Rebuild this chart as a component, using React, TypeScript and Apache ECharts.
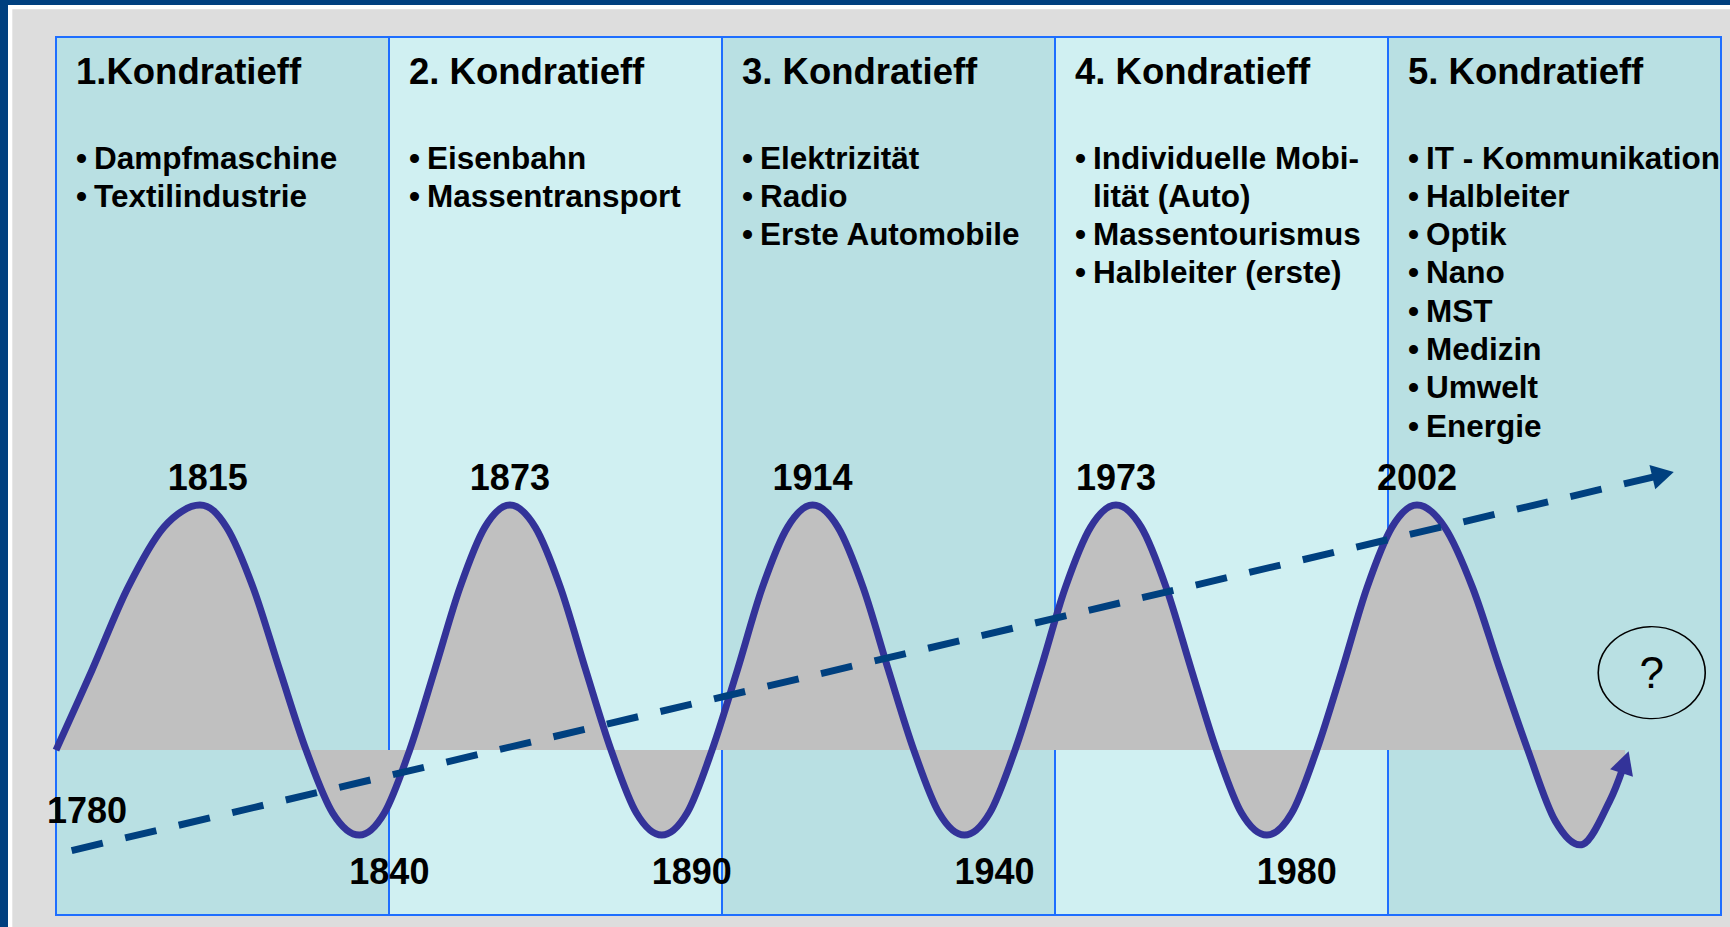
import React, { useEffect, useRef } from "react";
import * as echarts from "echarts";

// ---------- data ----------
const panelTitles = ["1.Kondratieff", "2. Kondratieff", "3. Kondratieff", "4. Kondratieff", "5. Kondratieff"];
const panelItems: string[][] = [
  ["Dampfmaschine", "Textilindustrie"],
  ["Eisenbahn", "Massentransport"],
  ["Elektrizität", "Radio", "Erste Automobile"],
  ["Individuelle Mobi-\nlität (Auto)", "Massentourismus", "Halbleiter (erste)"],
  ["IT - Kommunikation", "Halbleiter", "Optik", "Nano", "MST", "Medizin", "Umwelt", "Energie"],
];
const panelColors = ["#B9E0E3", "#D0F0F2", "#B9E0E3", "#D0F0F2", "#B9E0E3"];
const panelBounds = [0, 100, 200, 300, 400, 500];

// wave: x = position (100 per Kondratieff panel), y = amplitude (peak = 100)
const waveX = [
  0, 10.8, 21.6, 32.4, 43.2,
  51.2, 59.2, 67.2, 75.1, 83.1, 91.1,
  98.6, 106.2, 113.7, 121.3, 128.8, 136.3,
  143.9, 151.5, 159.1, 166.7, 174.3, 181.9,
  189.5, 197.0, 204.6, 212.1, 219.7, 227.2,
  234.8, 242.4, 250.0, 257.6, 265.2, 272.8,
  280.4, 288.0, 295.6, 303.1, 310.7, 318.3,
  325.9, 333.4, 341.0, 348.5, 356.0, 363.6,
  371.1, 378.6, 386.2, 393.7, 401.2, 408.7,
  417.0, 425.4, 433.7, 442.0, 450.3, 458.6,
  466.7, 471.2,
];
const waveY = [
  0, 32.6, 66.3, 91.0, 100,
  91.0, 66.3, 32.6, 0, -25.7, -34.7,
  -25.7, 0, 32.6, 66.3, 91.0, 100,
  91.0, 66.3, 32.6, 0, -25.7, -34.7,
  -25.7, 0, 32.6, 66.3, 91.0, 100,
  91.0, 66.3, 32.6, 0, -25.7, -34.7,
  -25.7, 0, 32.6, 66.3, 91.0, 100,
  91.0, 66.3, 32.6, 0, -25.7, -34.7,
  -25.7, 0, 32.6, 66.3, 91.0, 100,
  91.0, 66.3, 32.6, 0, -29.1, -38.4,
  -20.4, -4.9,
];
const startYear = "1780";
const peakYears = ["1815", "1873", "1914", "1973", "2002"];
const peakLabelShift = [8, 0, 0, 0, 0];
const troughYears = ["1840", "1890", "1940", "1980"];

const trendX = [4.7, 482.6];
const trendY = [-41.0, 112.4];

const questionPoint = [479.2, 31.6];

// ---------- layout / style ----------
const W = 1730;
const H = 927;
const GRID_LEFT = 56;
const GRID_RIGHT = 9;
const GRID_TOP = 37;
const GRID_BOTTOM = 12;
const X_MIN = 0;
const X_MAX = 500;
const Y_MIN = -67.3;
const Y_MAX = 291;
const PANEL_W = (W - GRID_LEFT - GRID_RIGHT) / 5;
const FF = "'Liberation Sans', Arial, Helvetica, sans-serif";
const NAVY = "#00407F";
const WAVE = "#333399";
const BORDER = "#1E6EFF";

// smooth curve (Catmull-Rom) through given pixel points, optionally closed to a baseline
const WaveShape = (echarts.graphic as any).extendShape({
  shape: { points: null as any, baseY: null as any },
  buildPath(ctx: any, shape: any) {
    const pts: number[][] = shape.points;
    if (!pts || pts.length < 2) return;
    const n = pts.length;
    ctx.moveTo(pts[0][0], pts[0][1]);
    for (let i = 0; i < n - 1; i++) {
      const p0 = pts[Math.max(i - 1, 0)];
      const p1 = pts[i];
      const p2 = pts[i + 1];
      const p3 = pts[Math.min(i + 2, n - 1)];
      ctx.bezierCurveTo(
        p1[0] + (p2[0] - p0[0]) / 6,
        p1[1] + (p2[1] - p0[1]) / 6,
        p2[0] - (p3[0] - p1[0]) / 6,
        p2[1] - (p3[1] - p1[1]) / 6,
        p2[0],
        p2[1]
      );
    }
    if (shape.baseY != null) {
      ctx.lineTo(pts[n - 1][0], shape.baseY);
      ctx.lineTo(pts[0][0], shape.baseY);
      ctx.closePath();
    }
  },
});
(echarts.graphic as any).registerShape("kwave", WaveShape);

export default function App() {
  const ref = useRef<HTMLDivElement>(null);

  useEffect(() => {
    if (!ref.current) return;
    const chart = echarts.init(ref.current, undefined, { renderer: "svg" });

    const yearLabel = {
      show: true,
      fontSize: 36,
      lineHeight: 36,
      fontWeight: "bold",
      color: "#000000",
      opacity: 1,
      fontFamily: FF,
    };

    // label / arrow points taken from the wave data
    const maxY = Math.max(...waveY);
    let p = 0;
    let t = 0;
    const markData: any[] = [];
    waveX.forEach((x, i) => {
      const y = waveY[i];
      const isLast = i === waveX.length - 1;
      if (i === 0) {
        markData.push({ value: [x, y], label: { ...yearLabel, formatter: startYear, position: "bottom", distance: 42, offset: [31, 0] } });
      } else if (y === maxY) {
        markData.push({ value: [x, y], label: { ...yearLabel, formatter: peakYears[p], position: "top", distance: 10, offset: [peakLabelShift[p], 0] } });
        p++;
      } else if (!isLast && y < waveY[i - 1] && y < waveY[i + 1] && t < troughYears.length) {
        markData.push({ value: [x, y], label: { ...yearLabel, formatter: troughYears[t], position: "bottom", distance: 18, offset: [30, 0] } });
        t++;
      }
      if (isLast) {
        markData.push({ value: [x, y], symbol: "triangle", symbolSize: [24, 23], symbolRotate: -18, itemStyle: { color: WAVE, opacity: 1 } });
      }
    });

    const graphics: any[] = [
      { type: "rect", shape: { x: 0, y: 0, width: W, height: 5 }, style: { fill: NAVY }, z: 50 },
      { type: "rect", shape: { x: 0, y: 0, width: 8, height: H }, style: { fill: NAVY }, z: 50 },
      { type: "rect", shape: { x: 8, y: 5, width: W - 8, height: 4.3 }, style: { fill: "#FFFFFF" }, z: 50 },
      { type: "rect", shape: { x: 8, y: 5, width: 4.3, height: H - 5 }, style: { fill: "#FFFFFF" }, z: 50 },
    ];

    const titleSize = 36.5;
    const itemSize = 31.5;
    const lineStep = 38.3;
    panelTitles.forEach((title, i) => {
      const left = GRID_LEFT + i * PANEL_W;
      graphics.push({
        type: "text",
        x: left + 20,
        y: 83.7 - 0.3465 * titleSize,
        z: 100,
        style: { text: title, fontSize: titleSize, fontWeight: "bold", fontFamily: FF, fill: "#000", align: "left", verticalAlign: "middle" },
      });
      let line = 0;
      panelItems[i].forEach((item) => {
        const yBase = 168.5 + line * lineStep;
        graphics.push({
          type: "text",
          x: left + 20,
          y: yBase - 0.3465 * itemSize,
          z: 100,
          style: { text: "•", fontSize: itemSize, fontWeight: "bold", fontFamily: FF, fill: "#000", align: "left", verticalAlign: "middle" },
        });
        item.split("\n").forEach((part) => {
          const yb = 168.5 + line * lineStep;
          graphics.push({
            type: "text",
            x: left + 38,
            y: yb - 0.3465 * itemSize,
            z: 100,
            style: { text: part, fontSize: itemSize, fontWeight: "bold", fontFamily: FF, fill: "#000", align: "left", verticalAlign: "middle" },
          });
          line++;
        });
      });
    });

    chart.setOption({
      animation: false,
      backgroundColor: "#DDDDDD",
      grid: { left: GRID_LEFT, right: GRID_RIGHT, top: GRID_TOP, bottom: GRID_BOTTOM, containLabel: false },
      xAxis: { type: "value", min: X_MIN, max: X_MAX, show: false, splitLine: { show: false } },
      yAxis: { type: "value", min: Y_MIN, max: Y_MAX, show: false, splitLine: { show: false } },
      graphic: graphics,
      series: [
        {
          type: "custom",
          coordinateSystem: "cartesian2d",
          z: 1,
          silent: true,
          clip: false,
          data: panelColors.map((c, i) => [panelBounds[i], panelBounds[i + 1]]),
          renderItem: (params: any, api: any) => {
            const p0 = api.coord([api.value(0), Y_MAX]);
            const p1 = api.coord([api.value(1), Y_MIN]);
            return {
              type: "rect",
              shape: { x: p0[0], y: p0[1], width: p1[0] - p0[0], height: p1[1] - p0[1] },
              style: { fill: panelColors[params.dataIndex], stroke: BORDER, lineWidth: 2 },
            };
          },
        },
        {
          type: "custom",
          coordinateSystem: "cartesian2d",
          z: 2,
          silent: true,
          clip: false,
          data: waveX.map((x, i) => [x, waveY[i]]),
          renderItem: (params: any, api: any) => {
            if (params.dataIndex !== 0) return null;
            const pts = waveX.map((x, i) => api.coord([x, waveY[i]]));
            const baseY = api.coord([waveX[0], 0])[1];
            return {
              type: "group",
              children: [
                { type: "kwave", shape: { points: pts, baseY }, style: { fill: "#C0C0C0", stroke: null } },
                { type: "kwave", shape: { points: pts, baseY: null }, style: { fill: null, stroke: WAVE, lineWidth: 7 } },
              ],
            };
          },
        },
        {
          type: "line",
          z: 3,
          silent: true,
          clip: false,
          symbol: "none",
          showSymbol: true,
          data: [
            { value: [trendX[0], trendY[0]] },
            { value: [trendX[1], trendY[1]], symbol: "triangle", symbolSize: [25, 22], symbolRotate: -76.6 },
          ],
          lineStyle: { color: NAVY, width: 7, type: [32, 23], cap: "butt" },
          itemStyle: { color: NAVY, opacity: 1 },
        },
        {
          type: "scatter",
          z: 4,
          silent: true,
          clip: false,
          symbol: "circle",
          symbolSize: 0,
          data: markData,
          itemStyle: { color: WAVE, opacity: 1 },
        },
        {
          type: "scatter",
          z: 3,
          silent: true,
          data: [questionPoint],
          symbol: "circle",
          symbolSize: [107, 92],
          itemStyle: { color: "rgba(0,0,0,0)", borderColor: "#000", borderWidth: 1.5, opacity: 1 },
          label: { show: true, position: "inside", formatter: "?", fontSize: 44, color: "#000", opacity: 1, fontFamily: FF },
        },
      ],
    });

    return () => chart.dispose();
  }, []);

  return <div ref={ref} style={{ position: "absolute", left: 0, top: 0, width: W, height: H }} />;
}
